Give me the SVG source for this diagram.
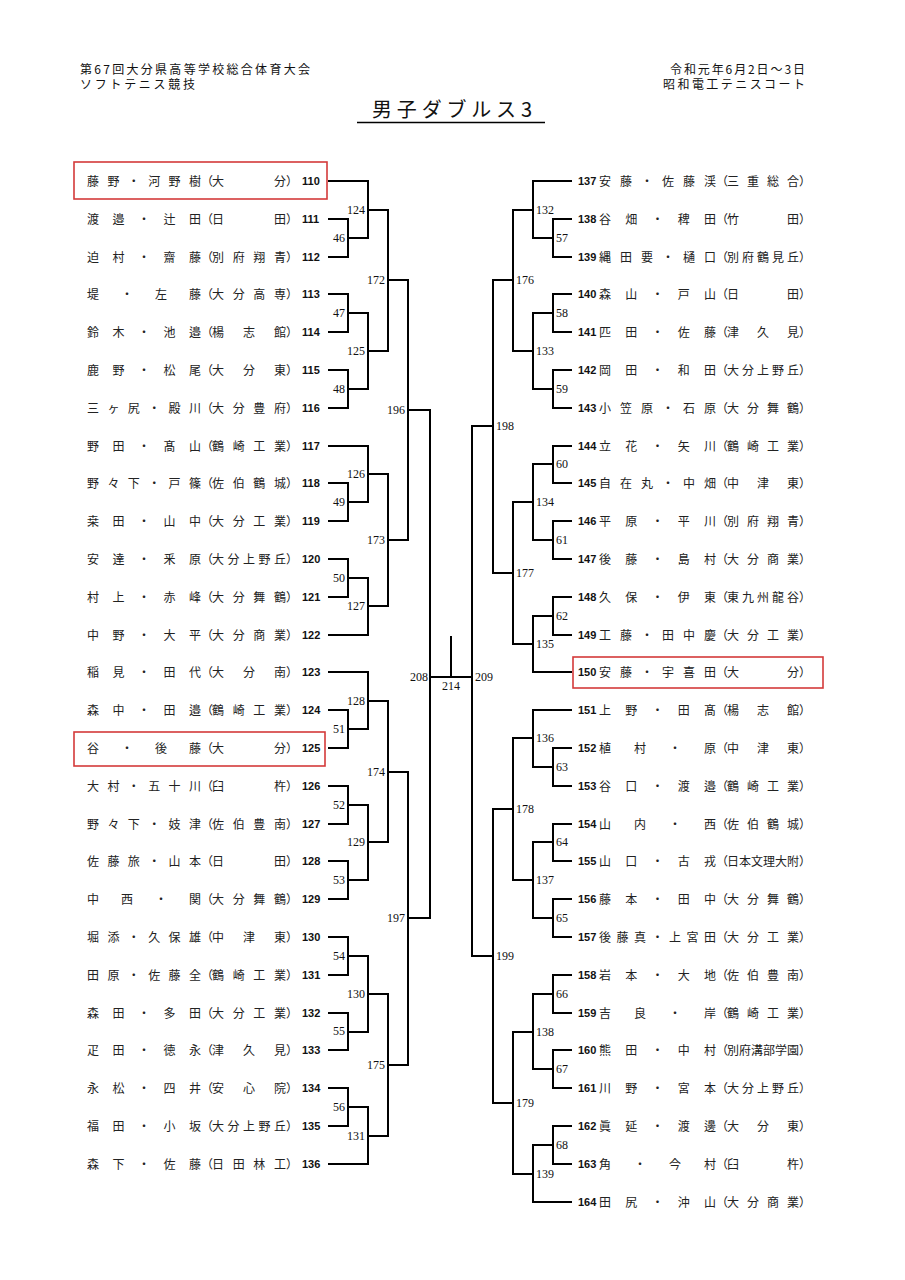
<svg xmlns="http://www.w3.org/2000/svg" width="905" height="1280" viewBox="0 0 905 1280">
<style>
.nm{font-family:"Noto Sans CJK JP","Noto Sans CJK SC",sans-serif;font-size:12px;fill:#222}
.no{font-family:"Liberation Sans",Arial,sans-serif;font-size:11px;font-weight:bold;fill:#111}
.lb{font-family:"Liberation Serif","Times New Roman",serif;font-size:12px;fill:#111}
.hd{font-family:"Noto Sans CJK JP","Noto Sans CJK SC",sans-serif;fill:#111}
.br{fill:none;stroke:#000;stroke-width:2;stroke-linejoin:miter}
.hl{fill:none;stroke:#d43a3a;stroke-width:1.6}
</style>
<rect width="905" height="1280" fill="#fff"/>
<g id="header">
<text class="hd" x="80" y="74" font-size="12" textLength="230">第67回大分県高等学校総合体育大会</text>
<text class="hd" x="80" y="88.5" font-size="12" textLength="115">ソフトテニス競技</text>
<text class="hd" x="805" y="74" font-size="12" text-anchor="end" textLength="135">令和元年6月2日～3日</text>
<text class="hd" x="805" y="88.5" font-size="12" text-anchor="end" textLength="142">昭和電工テニスコート</text>
<text class="hd" x="372" y="117" font-size="20" textLength="160">男子ダブルス3</text>
<line x1="357" y1="122.5" x2="545" y2="122.5" stroke="#000" stroke-width="1.5"/>
</g>
<g id="connectors" class="br">
<path d="M328 219H348V257H328M328 294H348V332H328M328 370H348V408H328M328 483H348V521H328M328 559H348V597H328M328 710H348V748H328M328 786H348V824H328M328 861H348V899H328M328 937H348V975H328M328 1013H348V1050H328M328 1088H348V1126H328"/>
<path d="M328 181H368V238H348M348 313H368V389H348M328 446H368V502H348M348 578H368V635H328M328 672H368V729H348M348 805H368V880H348M348 956H368V1032H348M348 1107H368V1164H328"/>
<path d="M368 210H388V351H368M368 474H388V606H368M368 701H388V842H368M368 994H388V1136H368"/>
<path d="M388 280H408V540H388M388 772H408V1065H388"/>
<path d="M408 410H430V918H408"/>
<path d="M572 219H553V257H572M572 294H553V332H572M572 370H553V408H572M572 446H553V483H572M572 521H553V559H572M572 597H553V635H572M572 748H553V786H572M572 824H553V861H572M572 899H553V937H572M572 975H553V1013H572M572 1050H553V1088H572M572 1126H553V1164H572"/>
<path d="M572 181H533V238H553M553 313H533V389H553M553 464H533V540H553M553 616H533V672H572M572 710H533V767H553M553 842H533V918H553M553 994H533V1069H553M553 1145H533V1202H572"/>
<path d="M533 210H513V351H533M533 502H513V644H533M533 738H513V880H533M533 1032H513V1174H533"/>
<path d="M513 280H493V573H513M513 809H493V1103H513"/>
<path d="M493 426H472V956H493"/>
<path d="M430 677H472M451 677V636"/>
</g>
<g id="labels" class="lb">
<g text-anchor="end">
<text x="345" y="241.5">46</text><text x="345" y="316.5">47</text><text x="345" y="392.5">48</text><text x="345" y="505.5">49</text><text x="345" y="581.5">50</text><text x="345" y="732.5">51</text><text x="345" y="808.5">52</text><text x="345" y="883.5">53</text><text x="345" y="959.5">54</text><text x="345" y="1035">55</text><text x="345" y="1110.5">56</text>
<text x="365" y="213.5">124</text><text x="365" y="354.5">125</text><text x="365" y="477.5">126</text><text x="365" y="609.5">127</text><text x="365" y="704.5">128</text><text x="365" y="845.5">129</text><text x="365" y="997.5">130</text><text x="365" y="1139.5">131</text>
<text x="385" y="283.5">172</text><text x="385" y="543.5">173</text><text x="385" y="775.5">174</text><text x="385" y="1068.5">175</text>
<text x="405" y="413.5">196</text><text x="405" y="921.5">197</text>
<text x="428" y="681">208</text>
</g>
<text x="556" y="241.5">57</text><text x="556" y="316.5">58</text><text x="556" y="392.5">59</text><text x="556" y="467.5">60</text><text x="556" y="543.5">61</text><text x="556" y="619.5">62</text><text x="556" y="770.5">63</text><text x="556" y="845.5">64</text><text x="556" y="921.5">65</text><text x="556" y="997.5">66</text><text x="556" y="1072.5">67</text><text x="556" y="1148.5">68</text>
<text x="536" y="213.5">132</text><text x="536" y="354.5">133</text><text x="536" y="505.5">134</text><text x="536" y="647.5">135</text><text x="536" y="741.5">136</text><text x="536" y="883.5">137</text><text x="536" y="1035.5">138</text><text x="536" y="1177.5">139</text>
<text x="516" y="283.5">176</text><text x="516" y="576.5">177</text><text x="516" y="812.5">178</text><text x="516" y="1106.5">179</text>
<text x="496" y="429.5">198</text><text x="496" y="959.5">199</text>
<text x="475" y="681">209</text>
<text x="451" y="690" text-anchor="middle">214</text>
</g>
<g id="left-entries">
<g id="e110" transform="translate(0,181)"><rect class="hl" x="74" y="-19" width="253" height="37"/><text class="nm" x="87" y="4.5" textLength="114">藤野・河野樹</text><text class="nm" x="201" y="4.5">（</text><text class="nm" x="212" y="4.5" textLength="74">大分</text><text class="nm" x="286" y="4.5">）</text><text class="no" x="302" y="4">110</text></g>
<g id="e111" transform="translate(0,219)"><text class="nm" x="87" y="4.5" textLength="114">渡邉・辻田</text><text class="nm" x="201" y="4.5">（</text><text class="nm" x="212" y="4.5" textLength="74">日田</text><text class="nm" x="286" y="4.5">）</text><text class="no" x="302" y="4">111</text></g>
<g id="e112" transform="translate(0,257)"><text class="nm" x="87" y="4.5" textLength="114">迫村・齋藤</text><text class="nm" x="201" y="4.5">（</text><text class="nm" x="212" y="4.5" textLength="74">別府翔青</text><text class="nm" x="286" y="4.5">）</text><text class="no" x="302" y="4">112</text></g>
<g id="e113" transform="translate(0,294)"><text class="nm" x="87" y="4.5" textLength="114">堤・左藤</text><text class="nm" x="201" y="4.5">（</text><text class="nm" x="212" y="4.5" textLength="74">大分高専</text><text class="nm" x="286" y="4.5">）</text><text class="no" x="302" y="4">113</text></g>
<g id="e114" transform="translate(0,332)"><text class="nm" x="87" y="4.5" textLength="114">鈴木・池邉</text><text class="nm" x="201" y="4.5">（</text><text class="nm" x="212" y="4.5" textLength="74">楊志館</text><text class="nm" x="286" y="4.5">）</text><text class="no" x="302" y="4">114</text></g>
<g id="e115" transform="translate(0,370)"><text class="nm" x="87" y="4.5" textLength="114">鹿野・松尾</text><text class="nm" x="201" y="4.5">（</text><text class="nm" x="212" y="4.5" textLength="74">大分東</text><text class="nm" x="286" y="4.5">）</text><text class="no" x="302" y="4">115</text></g>
<g id="e116" transform="translate(0,408)"><text class="nm" x="87" y="4.5" textLength="114">三ヶ尻・殿川</text><text class="nm" x="201" y="4.5">（</text><text class="nm" x="212" y="4.5" textLength="74">大分豊府</text><text class="nm" x="286" y="4.5">）</text><text class="no" x="302" y="4">116</text></g>
<g id="e117" transform="translate(0,446)"><text class="nm" x="87" y="4.5" textLength="114">野田・髙山</text><text class="nm" x="201" y="4.5">（</text><text class="nm" x="212" y="4.5" textLength="74">鶴崎工業</text><text class="nm" x="286" y="4.5">）</text><text class="no" x="302" y="4">117</text></g>
<g id="e118" transform="translate(0,483)"><text class="nm" x="87" y="4.5" textLength="114">野々下・戸篠</text><text class="nm" x="201" y="4.5">（</text><text class="nm" x="212" y="4.5" textLength="74">佐伯鶴城</text><text class="nm" x="286" y="4.5">）</text><text class="no" x="302" y="4">118</text></g>
<g id="e119" transform="translate(0,521)"><text class="nm" x="87" y="4.5" textLength="114">桒田・山中</text><text class="nm" x="201" y="4.5">（</text><text class="nm" x="212" y="4.5" textLength="74">大分工業</text><text class="nm" x="286" y="4.5">）</text><text class="no" x="302" y="4">119</text></g>
<g id="e120" transform="translate(0,559)"><text class="nm" x="87" y="4.5" textLength="114">安達・釆原</text><text class="nm" x="201" y="4.5">（</text><text class="nm" x="212" y="4.5" textLength="74">大分上野丘</text><text class="nm" x="286" y="4.5">）</text><text class="no" x="302" y="4">120</text></g>
<g id="e121" transform="translate(0,597)"><text class="nm" x="87" y="4.5" textLength="114">村上・赤峰</text><text class="nm" x="201" y="4.5">（</text><text class="nm" x="212" y="4.5" textLength="74">大分舞鶴</text><text class="nm" x="286" y="4.5">）</text><text class="no" x="302" y="4">121</text></g>
<g id="e122" transform="translate(0,635)"><text class="nm" x="87" y="4.5" textLength="114">中野・大平</text><text class="nm" x="201" y="4.5">（</text><text class="nm" x="212" y="4.5" textLength="74">大分商業</text><text class="nm" x="286" y="4.5">）</text><text class="no" x="302" y="4">122</text></g>
<g id="e123" transform="translate(0,672)"><text class="nm" x="87" y="4.5" textLength="114">稲見・田代</text><text class="nm" x="201" y="4.5">（</text><text class="nm" x="212" y="4.5" textLength="74">大分南</text><text class="nm" x="286" y="4.5">）</text><text class="no" x="302" y="4">123</text></g>
<g id="e124" transform="translate(0,710)"><text class="nm" x="87" y="4.5" textLength="114">森中・田邉</text><text class="nm" x="201" y="4.5">（</text><text class="nm" x="212" y="4.5" textLength="74">鶴崎工業</text><text class="nm" x="286" y="4.5">）</text><text class="no" x="302" y="4">124</text></g>
<g id="e125" transform="translate(0,748)"><rect class="hl" x="74" y="-16" width="251" height="34"/><text class="nm" x="87" y="4.5" textLength="114">谷・後藤</text><text class="nm" x="201" y="4.5">（</text><text class="nm" x="212" y="4.5" textLength="74">大分</text><text class="nm" x="286" y="4.5">）</text><text class="no" x="302" y="4">125</text></g>
<g id="e126" transform="translate(0,786)"><text class="nm" x="87" y="4.5" textLength="114">大村・五十川</text><text class="nm" x="201" y="4.5">（</text><text class="nm" x="212" y="4.5" textLength="74">臼杵</text><text class="nm" x="286" y="4.5">）</text><text class="no" x="302" y="4">126</text></g>
<g id="e127" transform="translate(0,824)"><text class="nm" x="87" y="4.5" textLength="114">野々下・妓津</text><text class="nm" x="201" y="4.5">（</text><text class="nm" x="212" y="4.5" textLength="74">佐伯豊南</text><text class="nm" x="286" y="4.5">）</text><text class="no" x="302" y="4">127</text></g>
<g id="e128" transform="translate(0,861)"><text class="nm" x="87" y="4.5" textLength="114">佐藤旅・山本</text><text class="nm" x="201" y="4.5">（</text><text class="nm" x="212" y="4.5" textLength="74">日田</text><text class="nm" x="286" y="4.5">）</text><text class="no" x="302" y="4">128</text></g>
<g id="e129" transform="translate(0,899)"><text class="nm" x="87" y="4.5" textLength="114">中西・関</text><text class="nm" x="201" y="4.5">（</text><text class="nm" x="212" y="4.5" textLength="74">大分舞鶴</text><text class="nm" x="286" y="4.5">）</text><text class="no" x="302" y="4">129</text></g>
<g id="e130" transform="translate(0,937)"><text class="nm" x="87" y="4.5" textLength="114">堀添・久保雄</text><text class="nm" x="201" y="4.5">（</text><text class="nm" x="212" y="4.5" textLength="74">中津東</text><text class="nm" x="286" y="4.5">）</text><text class="no" x="302" y="4">130</text></g>
<g id="e131" transform="translate(0,975)"><text class="nm" x="87" y="4.5" textLength="114">田原・佐藤全</text><text class="nm" x="201" y="4.5">（</text><text class="nm" x="212" y="4.5" textLength="74">鶴崎工業</text><text class="nm" x="286" y="4.5">）</text><text class="no" x="302" y="4">131</text></g>
<g id="e132" transform="translate(0,1013)"><text class="nm" x="87" y="4.5" textLength="114">森田・多田</text><text class="nm" x="201" y="4.5">（</text><text class="nm" x="212" y="4.5" textLength="74">大分工業</text><text class="nm" x="286" y="4.5">）</text><text class="no" x="302" y="4">132</text></g>
<g id="e133" transform="translate(0,1050)"><text class="nm" x="87" y="4.5" textLength="114">疋田・徳永</text><text class="nm" x="201" y="4.5">（</text><text class="nm" x="212" y="4.5" textLength="74">津久見</text><text class="nm" x="286" y="4.5">）</text><text class="no" x="302" y="4">133</text></g>
<g id="e134" transform="translate(0,1088)"><text class="nm" x="87" y="4.5" textLength="114">永松・四井</text><text class="nm" x="201" y="4.5">（</text><text class="nm" x="212" y="4.5" textLength="74">安心院</text><text class="nm" x="286" y="4.5">）</text><text class="no" x="302" y="4">134</text></g>
<g id="e135" transform="translate(0,1126)"><text class="nm" x="87" y="4.5" textLength="114">福田・小坂</text><text class="nm" x="201" y="4.5">（</text><text class="nm" x="212" y="4.5" textLength="74">大分上野丘</text><text class="nm" x="286" y="4.5">）</text><text class="no" x="302" y="4">135</text></g>
<g id="e136" transform="translate(0,1164)"><text class="nm" x="87" y="4.5" textLength="114">森下・佐藤</text><text class="nm" x="201" y="4.5">（</text><text class="nm" x="212" y="4.5" textLength="74">日田林工</text><text class="nm" x="286" y="4.5">）</text><text class="no" x="302" y="4">136</text></g>
</g>
<g id="right-entries">
<g id="e137" transform="translate(0,181)"><text class="no" x="578" y="4">137</text><text class="nm" x="599" y="4.5" textLength="117">安藤・佐藤渓</text><text class="nm" x="716" y="4.5">（</text><text class="nm" x="727" y="4.5" textLength="72">三重総合</text><text class="nm" x="799" y="4.5">）</text></g>
<g id="e138" transform="translate(0,219)"><text class="no" x="578" y="4">138</text><text class="nm" x="599" y="4.5" textLength="117">谷畑・稗田</text><text class="nm" x="716" y="4.5">（</text><text class="nm" x="727" y="4.5" textLength="72">竹田</text><text class="nm" x="799" y="4.5">）</text></g>
<g id="e139" transform="translate(0,257)"><text class="no" x="578" y="4">139</text><text class="nm" x="599" y="4.5" textLength="117">縄田要・樋口</text><text class="nm" x="716" y="4.5">（</text><text class="nm" x="727" y="4.5" textLength="72">別府鶴見丘</text><text class="nm" x="799" y="4.5">）</text></g>
<g id="e140" transform="translate(0,294)"><text class="no" x="578" y="4">140</text><text class="nm" x="599" y="4.5" textLength="117">森山・戸山</text><text class="nm" x="716" y="4.5">（</text><text class="nm" x="727" y="4.5" textLength="72">日田</text><text class="nm" x="799" y="4.5">）</text></g>
<g id="e141" transform="translate(0,332)"><text class="no" x="578" y="4">141</text><text class="nm" x="599" y="4.5" textLength="117">匹田・佐藤</text><text class="nm" x="716" y="4.5">（</text><text class="nm" x="727" y="4.5" textLength="72">津久見</text><text class="nm" x="799" y="4.5">）</text></g>
<g id="e142" transform="translate(0,370)"><text class="no" x="578" y="4">142</text><text class="nm" x="599" y="4.5" textLength="117">岡田・和田</text><text class="nm" x="716" y="4.5">（</text><text class="nm" x="727" y="4.5" textLength="72">大分上野丘</text><text class="nm" x="799" y="4.5">）</text></g>
<g id="e143" transform="translate(0,408)"><text class="no" x="578" y="4">143</text><text class="nm" x="599" y="4.5" textLength="117">小笠原・石原</text><text class="nm" x="716" y="4.5">（</text><text class="nm" x="727" y="4.5" textLength="72">大分舞鶴</text><text class="nm" x="799" y="4.5">）</text></g>
<g id="e144" transform="translate(0,446)"><text class="no" x="578" y="4">144</text><text class="nm" x="599" y="4.5" textLength="117">立花・矢川</text><text class="nm" x="716" y="4.5">（</text><text class="nm" x="727" y="4.5" textLength="72">鶴崎工業</text><text class="nm" x="799" y="4.5">）</text></g>
<g id="e145" transform="translate(0,483)"><text class="no" x="578" y="4">145</text><text class="nm" x="599" y="4.5" textLength="117">自在丸・中畑</text><text class="nm" x="716" y="4.5">（</text><text class="nm" x="727" y="4.5" textLength="72">中津東</text><text class="nm" x="799" y="4.5">）</text></g>
<g id="e146" transform="translate(0,521)"><text class="no" x="578" y="4">146</text><text class="nm" x="599" y="4.5" textLength="117">平原・平川</text><text class="nm" x="716" y="4.5">（</text><text class="nm" x="727" y="4.5" textLength="72">別府翔青</text><text class="nm" x="799" y="4.5">）</text></g>
<g id="e147" transform="translate(0,559)"><text class="no" x="578" y="4">147</text><text class="nm" x="599" y="4.5" textLength="117">後藤・島村</text><text class="nm" x="716" y="4.5">（</text><text class="nm" x="727" y="4.5" textLength="72">大分商業</text><text class="nm" x="799" y="4.5">）</text></g>
<g id="e148" transform="translate(0,597)"><text class="no" x="578" y="4">148</text><text class="nm" x="599" y="4.5" textLength="117">久保・伊東</text><text class="nm" x="716" y="4.5">（</text><text class="nm" x="727" y="4.5" textLength="72">東九州龍谷</text><text class="nm" x="799" y="4.5">）</text></g>
<g id="e149" transform="translate(0,635)"><text class="no" x="578" y="4">149</text><text class="nm" x="599" y="4.5" textLength="117">工藤・田中慶</text><text class="nm" x="716" y="4.5">（</text><text class="nm" x="727" y="4.5" textLength="72">大分工業</text><text class="nm" x="799" y="4.5">）</text></g>
<g id="e150" transform="translate(0,672)"><rect class="hl" x="573" y="-15" width="250" height="31"/><text class="no" x="578" y="4">150</text><text class="nm" x="599" y="4.5" textLength="117">安藤・宇喜田</text><text class="nm" x="716" y="4.5">（</text><text class="nm" x="727" y="4.5" textLength="72">大分</text><text class="nm" x="799" y="4.5">）</text></g>
<g id="e151" transform="translate(0,710)"><text class="no" x="578" y="4">151</text><text class="nm" x="599" y="4.5" textLength="117">上野・田髙</text><text class="nm" x="716" y="4.5">（</text><text class="nm" x="727" y="4.5" textLength="72">楊志館</text><text class="nm" x="799" y="4.5">）</text></g>
<g id="e152" transform="translate(0,748)"><text class="no" x="578" y="4">152</text><text class="nm" x="599" y="4.5" textLength="117">植村・原</text><text class="nm" x="716" y="4.5">（</text><text class="nm" x="727" y="4.5" textLength="72">中津東</text><text class="nm" x="799" y="4.5">）</text></g>
<g id="e153" transform="translate(0,786)"><text class="no" x="578" y="4">153</text><text class="nm" x="599" y="4.5" textLength="117">谷口・渡邉</text><text class="nm" x="716" y="4.5">（</text><text class="nm" x="727" y="4.5" textLength="72">鶴崎工業</text><text class="nm" x="799" y="4.5">）</text></g>
<g id="e154" transform="translate(0,824)"><text class="no" x="578" y="4">154</text><text class="nm" x="599" y="4.5" textLength="117">山内・西</text><text class="nm" x="716" y="4.5">（</text><text class="nm" x="727" y="4.5" textLength="72">佐伯鶴城</text><text class="nm" x="799" y="4.5">）</text></g>
<g id="e155" transform="translate(0,861)"><text class="no" x="578" y="4">155</text><text class="nm" x="599" y="4.5" textLength="117">山口・古戎</text><text class="nm" x="716" y="4.5">（</text><text class="nm" x="727" y="4.5" textLength="72">日本文理大附</text><text class="nm" x="799" y="4.5">）</text></g>
<g id="e156" transform="translate(0,899)"><text class="no" x="578" y="4">156</text><text class="nm" x="599" y="4.5" textLength="117">藤本・田中</text><text class="nm" x="716" y="4.5">（</text><text class="nm" x="727" y="4.5" textLength="72">大分舞鶴</text><text class="nm" x="799" y="4.5">）</text></g>
<g id="e157" transform="translate(0,937)"><text class="no" x="578" y="4">157</text><text class="nm" x="599" y="4.5" textLength="117">後藤真・上宮田</text><text class="nm" x="716" y="4.5">（</text><text class="nm" x="727" y="4.5" textLength="72">大分工業</text><text class="nm" x="799" y="4.5">）</text></g>
<g id="e158" transform="translate(0,975)"><text class="no" x="578" y="4">158</text><text class="nm" x="599" y="4.5" textLength="117">岩本・大地</text><text class="nm" x="716" y="4.5">（</text><text class="nm" x="727" y="4.5" textLength="72">佐伯豊南</text><text class="nm" x="799" y="4.5">）</text></g>
<g id="e159" transform="translate(0,1013)"><text class="no" x="578" y="4">159</text><text class="nm" x="599" y="4.5" textLength="117">吉良・岸</text><text class="nm" x="716" y="4.5">（</text><text class="nm" x="727" y="4.5" textLength="72">鶴崎工業</text><text class="nm" x="799" y="4.5">）</text></g>
<g id="e160" transform="translate(0,1050)"><text class="no" x="578" y="4">160</text><text class="nm" x="599" y="4.5" textLength="117">熊田・中村</text><text class="nm" x="716" y="4.5">（</text><text class="nm" x="727" y="4.5" textLength="72">別府溝部学園</text><text class="nm" x="799" y="4.5">）</text></g>
<g id="e161" transform="translate(0,1088)"><text class="no" x="578" y="4">161</text><text class="nm" x="599" y="4.5" textLength="117">川野・宮本</text><text class="nm" x="716" y="4.5">（</text><text class="nm" x="727" y="4.5" textLength="72">大分上野丘</text><text class="nm" x="799" y="4.5">）</text></g>
<g id="e162" transform="translate(0,1126)"><text class="no" x="578" y="4">162</text><text class="nm" x="599" y="4.5" textLength="117">眞延・渡邊</text><text class="nm" x="716" y="4.5">（</text><text class="nm" x="727" y="4.5" textLength="72">大分東</text><text class="nm" x="799" y="4.5">）</text></g>
<g id="e163" transform="translate(0,1164)"><text class="no" x="578" y="4">163</text><text class="nm" x="599" y="4.5" textLength="117">角・今村</text><text class="nm" x="716" y="4.5">（</text><text class="nm" x="727" y="4.5" textLength="72">臼杵</text><text class="nm" x="799" y="4.5">）</text></g>
<g id="e164" transform="translate(0,1202)"><text class="no" x="578" y="4">164</text><text class="nm" x="599" y="4.5" textLength="117">田尻・沖山</text><text class="nm" x="716" y="4.5">（</text><text class="nm" x="727" y="4.5" textLength="72">大分商業</text><text class="nm" x="799" y="4.5">）</text></g>
</g>
</svg>
